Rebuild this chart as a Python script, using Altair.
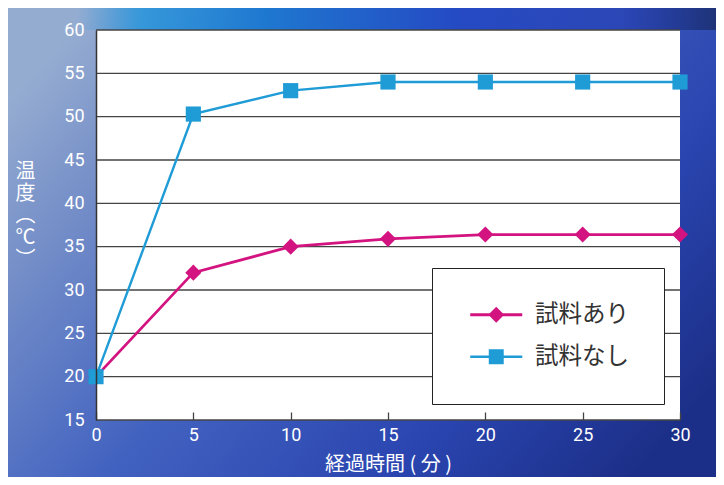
import altair as alt
import pandas as pd

# ---- data ----
minutes = [0, 5, 10, 15, 20, 25, 30]
with_sample = [20, 32, 35, 35.9, 36.4, 36.4, 36.4]        # 試料あり
without_sample = [20, 50.3, 53, 54, 54, 54, 54]            # 試料なし
series_names = ["試料あり", "試料なし"]
y_ticks = [15, 20, 25, 30, 35, 40, 45, 50, 55, 60]
x_ticks = [0, 5, 10, 15, 20, 25, 30]
x_title = "経過時間 ( 分 )"
y_title = ["温", "度", "︵", "℃", "︶"]

rows = []
for name, vals in zip(series_names, [with_sample, without_sample]):
    for t, v in zip(minutes, vals):
        rows.append({"t": t, "temp": v, "series": name})
df = pd.DataFrame(rows)
grid_df = pd.DataFrame({"temp": y_ticks})

# ---- layout ----
W, H = 584, 390
PL, PT, PR, PB = 88, 22, 36, 57
PINK, BLUE = "#d3137f", "#1f9bd6"
JP = "Noto Sans CJK JP"

color_scale = alt.Scale(domain=series_names, range=[PINK, BLUE])
x_scale = alt.Scale(domain=[0, 30], nice=False, zero=False)
y_scale = alt.Scale(domain=[15, 60], nice=False, zero=False)

x_axis = alt.Axis(
    values=x_ticks, format="d", title=x_title, domain=False, grid=False,
    ticks=True, tickSize=8, tickColor="#444", tickWidth=1.3, offset=-8,
    labelPadding=6, labelColor="white", labelFont="Roboto", labelFontSize=18,
    labelFlush=False, titleColor="white", titleFont=JP, titleFontSize=20,
    titleFontWeight="normal", titleY=42, titleBaseline="top", zindex=1,
)
y_axis = alt.Axis(
    values=y_ticks, format="d", title=y_title, grid=False, ticks=False,
    domain=True, domainColor="#333", domainWidth=1.5, labelPadding=12,
    labelColor="white", labelFont="Roboto", labelFontSize=18, labelFlush=False,
    titleColor="white", titleFont=JP, titleFontSize=20, titleFontWeight="normal",
    titleAngle=0, titleAlign="center", titleBaseline="top", titleX=-71,
    titleY=131, titleLineHeight=22, zindex=1,
)
X = alt.X("t:Q", scale=x_scale, axis=x_axis)
Y = alt.Y("temp:Q", scale=y_scale, axis=y_axis)

one = pd.DataFrame({"k": [0]})
bg = alt.Chart(one).mark_rect(
    color=alt.LinearGradient(
        gradient="linear", x1=0, y1=0.2, x2=1, y2=0.8,
        stops=[
            alt.GradientStop(offset=0, color="#95acd1"),
            alt.GradientStop(offset=0.14, color="#7a93c9"),
            alt.GradientStop(offset=0.45, color="#4262c0"),
            alt.GradientStop(offset=0.75, color="#2a45b0"),
            alt.GradientStop(offset=1, color="#1c2f88"),
        ],
    )
).encode(x=alt.value(-PL), x2=alt.value(W + PR), y=alt.value(-PT), y2=alt.value(H + PB))

# bright band along the top edge
top_band = alt.Chart(one).mark_rect(
    color=alt.LinearGradient(
        gradient="linear", x1=0, y1=0, x2=1, y2=0,
        stops=[
            alt.GradientStop(offset=0, color="rgba(40,150,220,0)"),
            alt.GradientStop(offset=0.1, color="rgba(40,150,220,0.85)"),
            alt.GradientStop(offset=0.3, color="rgba(26,118,208,0.95)"),
            alt.GradientStop(offset=0.6, color="rgba(32,70,196,0.9)"),
            alt.GradientStop(offset=0.85, color="rgba(34,60,180,0.6)"),
            alt.GradientStop(offset=1, color="rgba(28,48,112,0.9)"),
        ],
    )
).encode(x=alt.value(-20), x2=alt.value(W + PR), y=alt.value(-PT), y2=alt.value(0))

plot_bg = alt.Chart(one).mark_rect(color="white").encode(
    x=alt.value(0), x2=alt.value(W), y=alt.value(0), y2=alt.value(H)
)

grid = alt.Chart(grid_df).mark_rule(color="#444", strokeWidth=1.3).encode(
    y=Y, x=alt.value(0), x2=alt.value(W)
)

def series_layers(name, col, shape, size, lw):
    base = alt.Chart(df).transform_filter(alt.datum.series == name)
    ln = base.mark_line(strokeWidth=lw, color=col).encode(x=X, y=Y, order="t:Q")
    pt = base.mark_point(filled=True, opacity=1, shape=shape, size=size, color=col).encode(x=X, y=Y)
    return ln, pt

ln_a, pt_a = series_layers(series_names[0], PINK, "diamond", 260, 2.8)
ln_b, pt_b = series_layers(series_names[1], BLUE, "square", 230, 2.4)

# legend symbols: line stub + marker (unit = sqrt(size)/2 px)
path_diamond = "M-3.06,-0.17L3.06,-0.17L3.06,0.17L-3.06,0.17Z M0,-0.94L0.94,0L0,0.94L-0.94,0Z"
path_square = "M-3.06,-0.15L3.06,-0.15L3.06,0.15L-3.06,0.15Z M-0.88,-0.88L0.88,-0.88L0.88,0.88L-0.88,0.88Z"

leg = alt.Legend(
    orient="none", legendX=336, legendY=238, title=None, fillColor="white",
    strokeColor="#222", padding=35, rowPadding=17, symbolSize=289,
    symbolOffset=17.5, labelOffset=27, labelFont=JP, labelFontSize=23.5,
    labelColor="#333", symbolStrokeWidth=0,
)

legend_layer = alt.Chart(df).transform_filter("datum.t < 0").mark_point(
    filled=True, opacity=1, size=289
).encode(
    color=alt.Color("series:N", scale=color_scale, legend=leg),
    shape=alt.Shape(
        "series:N",
        scale=alt.Scale(domain=series_names, range=[path_diamond, path_square]),
        legend=leg,
    ),
)

chart = alt.layer(bg, top_band, plot_bg, grid, ln_a, ln_b, pt_a, pt_b, legend_layer).properties(
    width=W, height=H,
    autosize=alt.AutoSizeParams(type="none"),
    padding={"left": PL, "top": PT, "right": PR, "bottom": PB},
).configure_view(stroke=None)

chart.save("out.html", embed_options={"renderer": "svg", "actions": False})
